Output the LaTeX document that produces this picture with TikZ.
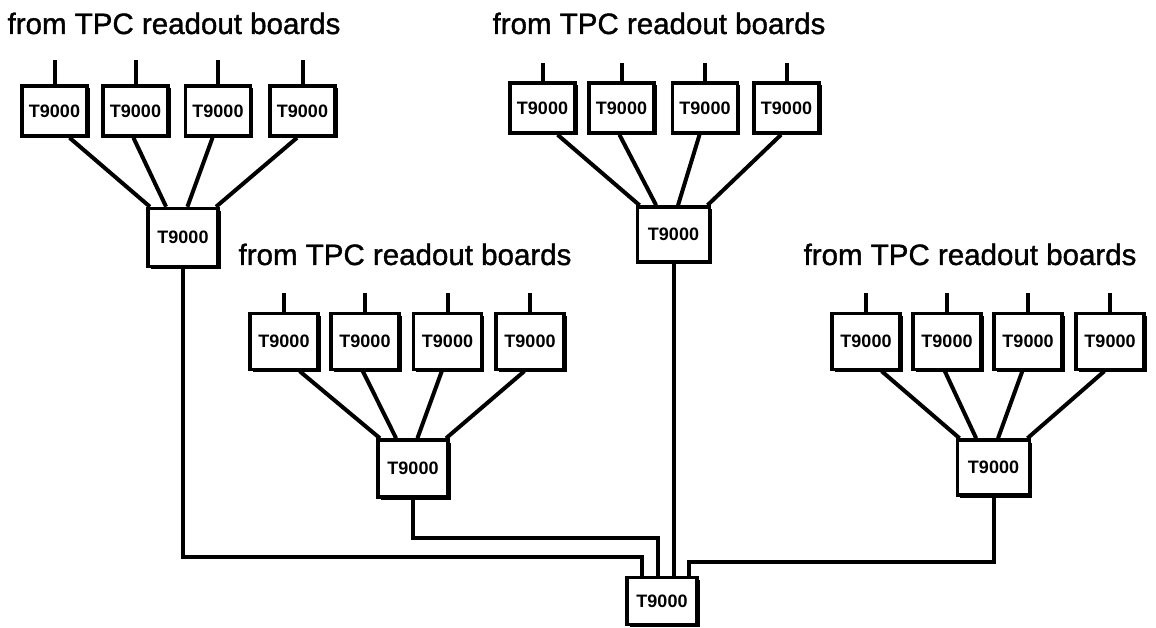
\documentclass[tikz,border=0pt]{standalone}
\usepackage{fontspec}
\setmainfont{Liberation Sans}
\newfontfamily\lblfont[FakeBold=1.2]{Liberation Sans}
\usetikzlibrary{calc,shadows}
\begin{document}
\begin{tikzpicture}[x=1pt,y=-1pt,
  tbox/.style={draw,line width=3.5pt,fill=white,inner sep=0pt,
    minimum width=65pt,minimum height=50pt,
    font=\fontsize{18}{18}\selectfont\bfseries,
    drop shadow={shadow xshift=2.5pt,shadow yshift=-2.5pt,fill=black,opacity=1}},
  wire/.style={line width=4pt},
  lbl/.style={anchor=base,inner sep=0pt,font=\lblfont\fontsize{29.5}{29.5}\selectfont}]
\useasboundingbox (0,0) rectangle (1156,628);

% labels
\node[lbl] (T1) at (174,34) {from TPC readout boards};
\node[lbl] (T2) at (659,34) {from TPC readout boards};
\node[lbl] (T3) at (405,265) {from TPC readout boards};
\node[lbl] (T4) at (970,265) {from TPC readout boards};

% group 1
\foreach \i/\x in {1/54.5,2/135.5,3/218,4/302.5}
  \node[tbox] (A\i) at (\x,111) {T9000};
\node[tbox,minimum width=70pt,minimum height=58pt] (MA) at (183,237.5) {T9000};
% group 2
\foreach \i/\x in {1/542.5,2/621.5,3/705,4/786.5}
  \node[tbox] (B\i) at (\x,108) {T9000};
\node[tbox,minimum width=72pt,minimum height=55pt] (MB) at (673.5,234.5) {T9000};
% group 3
\foreach \i/\x in {1/284,2/365,3/447.5,4/530}
  \node[tbox,minimum width=68pt,minimum height=56pt] (C\i) at (\x,341.5) {T9000};
\node[tbox,minimum width=70pt,minimum height=57pt] (MC) at (413,468.5) {T9000};
% group 4
\foreach \i/\x in {1/866,2/947,3/1028,4/1110}
  \node[tbox,minimum width=68pt,minimum height=56pt] (D\i) at (\x,341.5) {T9000};
\node[tbox,minimum width=72pt,minimum height=55pt] (MD) at (993.5,467.5) {T9000};
% root
\node[tbox,minimum width=70pt,minimum height=47pt] (R) at (662,601) {T9000};

% stubs and fan-in wires
\foreach \g/\m/\ytop in {A/MA/60,B/MB/63,C/MC/293,D/MD/293}{
  \foreach \i/\f/\h in {1/0.72/0.05,2/0.47/0.27,3/0.42/0.56,4/0.42/0.95}{
    \draw[wire] (\g\i.north) -- (\g\i.north |- 0,\ytop);
    \draw[wire] ($(\g\i.south west)!\f!(\g\i.south east)$) -- ($(\m.north west)!\h!(\m.north east)$);
  }
}

% wires to root
\coordinate (R1) at ($(R.north west)!0.23!(R.north east)$);
\coordinate (R3) at ($(R.north west)!0.44!(R.north east)$);
\coordinate (R4) at ($(R.north west)!0.87!(R.north east)$);
\draw[wire] (MA.south) |- ($(R1)+(0,-19)$) -- (R1);
\draw[wire] (MC.south) |- ($(R3)+(0,-38)$) -- (R3);
\draw[wire] (MB.south) -- (MB.south |- R.north);
\draw[wire] (MD.south) |- ($(R4)+(0,-14)$) -- (R4);
\end{tikzpicture}
\end{document}
